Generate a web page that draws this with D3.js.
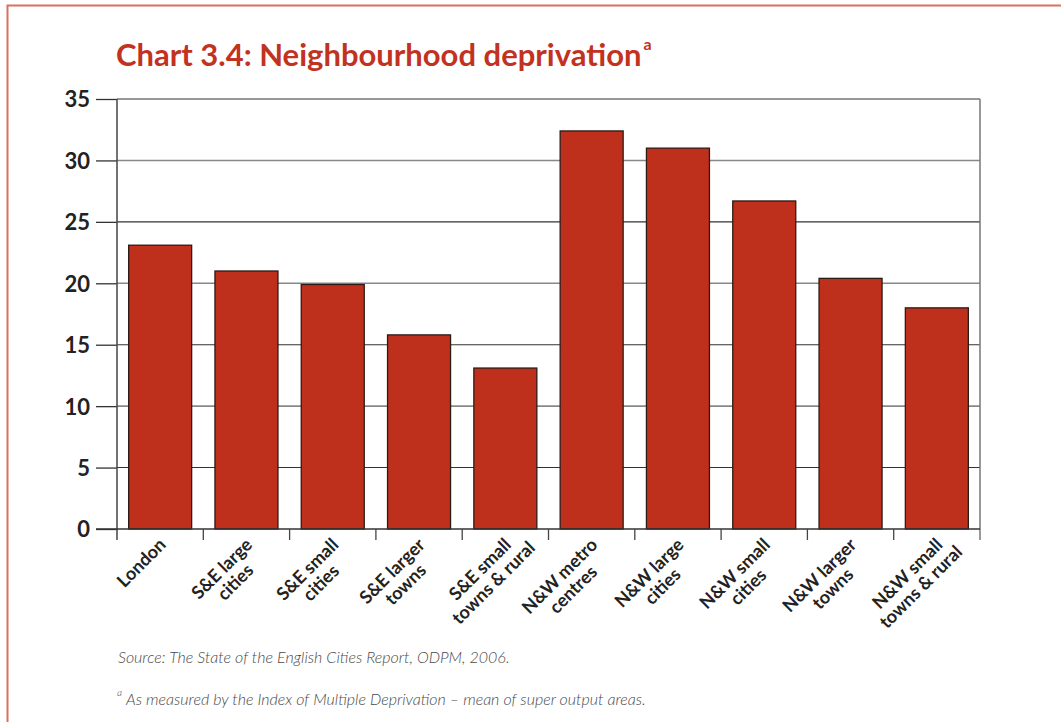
<!DOCTYPE html>
<html>
<head>
<meta charset="utf-8">
<script src="https://cdn.jsdelivr.net/npm/d3@7"></script>
<style>
  body { margin: 0; background: #fff; }
  svg { display: block; }
</style>
</head>
<body>
<svg id="chart" width="1061" height="722"></svg>
<script>
// data
const categories = [
  ['London'],
  ['S&E large', 'cities'],
  ['S&E small', 'cities'],
  ['S&E larger', 'towns'],
  ['S&E small', 'towns & rural'],
  ['N&W metro', 'centres'],
  ['N&W large', 'cities'],
  ['N&W small', 'cities'],
  ['N&W larger', 'towns'],
  ['N&W small', 'towns & rural']
];
const values = [23.1, 21.0, 19.9, 15.8, 13.1, 32.4, 31.0, 26.7, 20.4, 18.0];
const yTicks = [0, 5, 10, 15, 20, 25, 30, 35];

const BAR_FILL = '#bf301c';
const BAR_STROKE = '#2e1a16';
const RED = '#c2321f';
const FONT = 'Lato, "Open Sans", sans-serif';

const svg = d3.select('#chart');
const plotLeft = 117, plotRight = 980, plotTop = 99, plotBottom = 529;

const keys = categories.map((c) => c.join(' '));
const x = d3.scaleBand().domain(keys).range([plotLeft, plotRight]).paddingInner(0.27).paddingOuter(0.135);
const y = d3.scaleLinear().domain([0, 35]).range([plotBottom, plotTop]);

// outer frame
svg.append('path')
  .attr('d', `M7.5,730 V5.5 H1070`)
  .attr('fill', 'none')
  .attr('stroke', '#d9705f')
  .attr('stroke-width', 2);

// title with superscript note marker
const title = svg.append('text')
  .attr('x', 116)
  .attr('y', 66)
  .attr('fill', RED)
  .style('font-family', FONT)
  .style('font-weight', 700)
  .style('font-size', '31px');
title.append('tspan').text('Chart 3.4: Neighbourhood deprivation');
title.append('tspan')
  .attr('dx', 2)
  .attr('dy', -16)
  .style('font-size', '16px')
  .text('a');

// gridlines
svg.append('g')
  .selectAll('line')
  .data(yTicks.slice(1))
  .join('line')
  .attr('x1', plotLeft).attr('x2', plotRight)
  .attr('y1', (d) => y(d)).attr('y2', (d) => y(d))
  .attr('stroke', (d) => (d % 10 === 0 ? '#888' : '#333'))
  .attr('stroke-width', (d) => (d % 10 === 0 ? 1.6 : 1.1));

// y axis
const yAxis = svg.append('g')
  .attr('transform', `translate(${plotLeft},0)`)
  .call(d3.axisLeft(y).tickValues(yTicks).tickSize(21).tickPadding(6));
yAxis.select('.domain').remove();
yAxis.selectAll('line').attr('stroke', '#333').attr('stroke-width', 1.3);
yAxis.selectAll('text')
  .attr('fill', '#222')
  .style('font-family', FONT)
  .style('font-weight', 700)
  .style('font-size', '22px')
  .attr('dy', '0.36em');

// bars
svg.append('g')
  .selectAll('rect')
  .data(values)
  .join('rect')
  .attr('x', (d, i) => x(keys[i]))
  .attr('y', (d) => y(d))
  .attr('width', x.bandwidth())
  .attr('height', (d) => y(0) - y(d))
  .attr('fill', BAR_FILL)
  .attr('stroke', BAR_STROKE)
  .attr('stroke-width', 1.3);

// frame lines: left axis, right edge, baseline
const tickLen = 11;
svg.append('line')
  .attr('x1', plotLeft).attr('x2', plotLeft).attr('y1', plotTop).attr('y2', plotBottom + tickLen)
  .attr('stroke', '#444').attr('stroke-width', 1.5);
svg.append('line')
  .attr('x1', plotRight).attr('x2', plotRight).attr('y1', plotTop).attr('y2', plotBottom + tickLen)
  .attr('stroke', '#777').attr('stroke-width', 1.5);
svg.append('line')
  .attr('x1', plotLeft - 21).attr('x2', plotRight).attr('y1', plotBottom).attr('y2', plotBottom)
  .attr('stroke', '#333').attr('stroke-width', 1.5);

// x ticks at band boundaries
const boundaries = keys.map((k) => x(k) - x.step() * 0.135).concat([plotRight]);
svg.append('g')
  .selectAll('line')
  .data(boundaries.slice(1, -1))
  .join('line')
  .attr('x1', (d) => d).attr('x2', (d) => d)
  .attr('y1', plotBottom).attr('y2', plotBottom + tickLen)
  .attr('stroke', '#444').attr('stroke-width', 1.3);

// category labels, rotated, first line ends at band centre
const labels = svg.append('g')
  .selectAll('g')
  .data(categories)
  .join('g')
  .attr('transform', (d, i) => `translate(${x(keys[i]) + x.bandwidth() / 2 - 3},536) rotate(-45)`)
  .style('font-family', FONT)
  .style('font-weight', 700)
  .style('font-size', '18px')
  .attr('fill', '#222');

labels.each(function (lines) {
  const g = d3.select(this);
  const texts = lines.map((t, j) =>
    g.append('text').attr('text-anchor', 'middle').attr('y', 14 + j * 19).text(t));
  const w1 = texts[0].node().getComputedTextLength();
  texts.forEach((t) => t.attr('x', -w1 / 2));
});

// source and footnote
const noteFont = (sel) => sel
  .style('font-family', FONT)
  .style('font-style', 'italic')
  .style('font-weight', 300)
  .attr('fill', '#4a4a4a');

svg.append('text')
  .attr('x', 118).attr('y', 663)
  .style('font-size', '16px')
  .call(noteFont)
  .text('Source: The State of the English Cities Report, ODPM, 2006.');

const foot = svg.append('text')
  .attr('x', 117).attr('y', 705)
  .style('font-size', '16px')
  .call(noteFont);
foot.append('tspan')
  .attr('dy', -9)
  .style('font-size', '10px')
  .text('a');
foot.append('tspan')
  .attr('dx', 4)
  .attr('dy', 9)
  .text('As measured by the Index of Multiple Deprivation \u2013 mean of super output areas.');
</script>
</body>
</html>
